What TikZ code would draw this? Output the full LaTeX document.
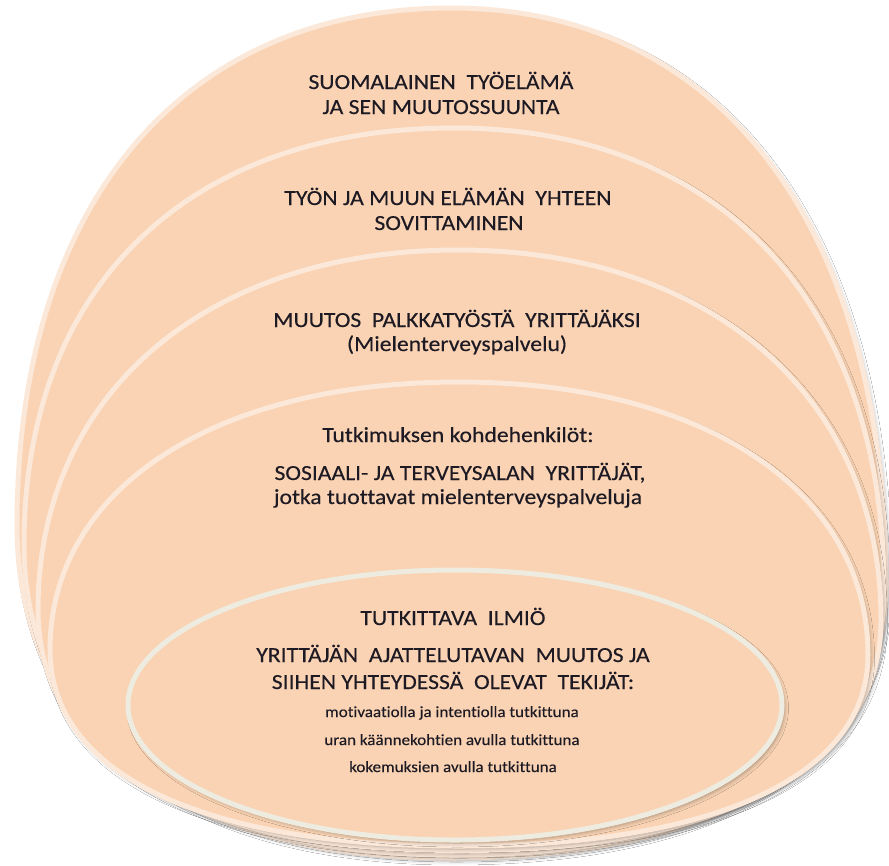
\documentclass[tikz,border=0pt]{standalone}
\usepackage{fontspec}
\setmainfont{Carlito}[FakeStretch=1.1, FakeBold=0.25, Ligatures=NoCommon]
\usetikzlibrary{shadows.blur}

\definecolor{peach}{HTML}{F9D3B3}
\definecolor{rim}{HTML}{FCE8D8}
\definecolor{corerim}{HTML}{EEECE1}
\definecolor{ink}{RGB}{30,26,36}

% Egg-shaped closed outline: left point (#1,#2), right point (#3,#4),
% centre line x=#5, top y=#6, bottom y=#7, roundness of upper (#8) and lower (#9) halves
\newcommand\eggpath[9]{%
  (#1,#2) .. controls (#1,{#2-#8*(#2-#6)}) and ({#5-#8*(#5-#1)},#6) .. (#5,#6)
  .. controls ({#5+#8*(#3-#5)},#6) and (#3,{#4-#8*(#4-#6)}) .. (#3,#4)
  .. controls (#3,{#4+#9*(#7-#4)}) and ({#5+#9*(#3-#5)},#7) .. (#5,#7)
  .. controls ({#5-#9*(#5-#1)},#7) and (#1,{#2+#9*(#7-#2)}) .. (#1,#2) -- cycle}

\tikzset{
  layer/.style={fill=peach, draw=rim, line width=5pt,
    blur shadow={shadow xshift=2.5pt, shadow yshift=-3pt, shadow blur radius=4pt, shadow opacity=32}},
  core/.style={layer, draw=corerim},
  big/.style={font=\fontsize{21.5}{25}\selectfont, text=ink, inner sep=0pt, anchor=base},
  small/.style={font=\fontsize{15.5}{18}\selectfont, text=ink, inner sep=0pt, anchor=base},
}

\begin{document}
\begin{tikzpicture}[x=1pt, y=-1pt]
  \fill[white] (0,0) rectangle (889,865);
  \useasboundingbox (0,0) rectangle (889,865);

  % nested layers, outermost first
  \path[layer] \eggpath{17}{525}{886}{585}{451}{8}{858}{0.62}{0.63};
  \path[layer] \eggpath{24}{545}{884}{590}{454}{128}{855}{0.62}{0.63};
  \path[layer] \eggpath{38}{610}{881}{620}{458}{250}{851}{0.6}{0.63};
  \path[layer] \eggpath{50}{650}{868}{655}{459}{382}{846}{0.6}{0.63};
  \path[core] (455,705) ellipse [x radius=327, y radius=135];

  % labels
  \node[big] (l1a) at (441,89) {SUOMALAINEN\ \ TYÖELÄMÄ};
  \node[big] (l1b) at (441,114) {JA SEN MUUTOSSUUNTA};

  \node[big] (l2a) at (448,205) {TYÖN JA MUUN ELÄMÄN\ \ YHTEEN};
  \node[big] (l2b) at (449,230) {SOVITTAMINEN};

  \node[big] (l3a) at (457,327) {MUUTOS\ \ PALKKATYÖSTÄ\ \ YRITTÄJÄKSI};
  \node[big] (l3b) at (457,351) {(Mielenterveyspalvelu)};

  \node[big] (l4a) at (458,442) {Tutkimuksen kohdehenkilöt:};
  \node[big] (l4b) at (460,480) {SOSIAALI- JA TERVEYSALAN\ \ YRITTÄJÄT,};
  \node[big] (l4c) at (458,504) {jotka tuottavat mielenterveyspalveluja};

  \node[big] (l5a) at (453,625) {TUTKITTAVA\ \ ILMIÖ};
  \node[big] (l5b) at (453,662) {YRITTÄJÄN\ \ AJATTELUTAVAN\ \ MUUTOS JA};
  \node[big] (l5c) at (453,689) {SIIHEN YHTEYDESSÄ\ \ OLEVAT\ \ TEKIJÄT:};

  \node[small] (l5d) at (452,717) {motivaatiolla ja intentiolla tutkittuna};
  \node[small] (l5e) at (452,745) {uran käännekohtien avulla tutkittuna};
  \node[small] (l5f) at (453,772) {kokemuksien avulla tutkittuna};
\end{tikzpicture}
\end{document}
